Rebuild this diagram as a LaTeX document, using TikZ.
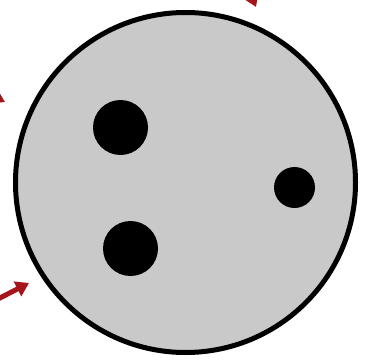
\documentclass[tikz,border=0pt]{standalone}
\usetikzlibrary{arrows.meta}
\definecolor{cellgray}{RGB}{201,201,201}
\definecolor{arrowred}{RGB}{165,22,26}
\tikzset{pull/.style={arrowred, line width=5pt, line cap=round, -{Triangle[length=13pt,width=16pt]}}}

\begin{document}
\begin{tikzpicture}[x=1pt, y=-1pt]
\clip (0,0) rectangle (366,361);
\path[fill=white] (0,0) rectangle (366,361);
% the cell
\draw[fill=cellgray, line width=5pt] (185.5,182.5) circle (170pt);
\fill (120.5,127.5) circle (27.5pt);
\fill (130.5,248.5) circle (27.5pt);
\fill (294.5,187.5) circle (20.5pt);
% arrows coming in
\coordinate (topend) at (256,7);
\coordinate (leftend) at (5,102);
\coordinate (lowend) at (29,283);
\draw[pull] (236,-40) -- (topend);
\draw[pull] (-40,80) -- (leftend);
\draw[pull] (-4,300) -- (lowend);
\end{tikzpicture}
\end{document}
